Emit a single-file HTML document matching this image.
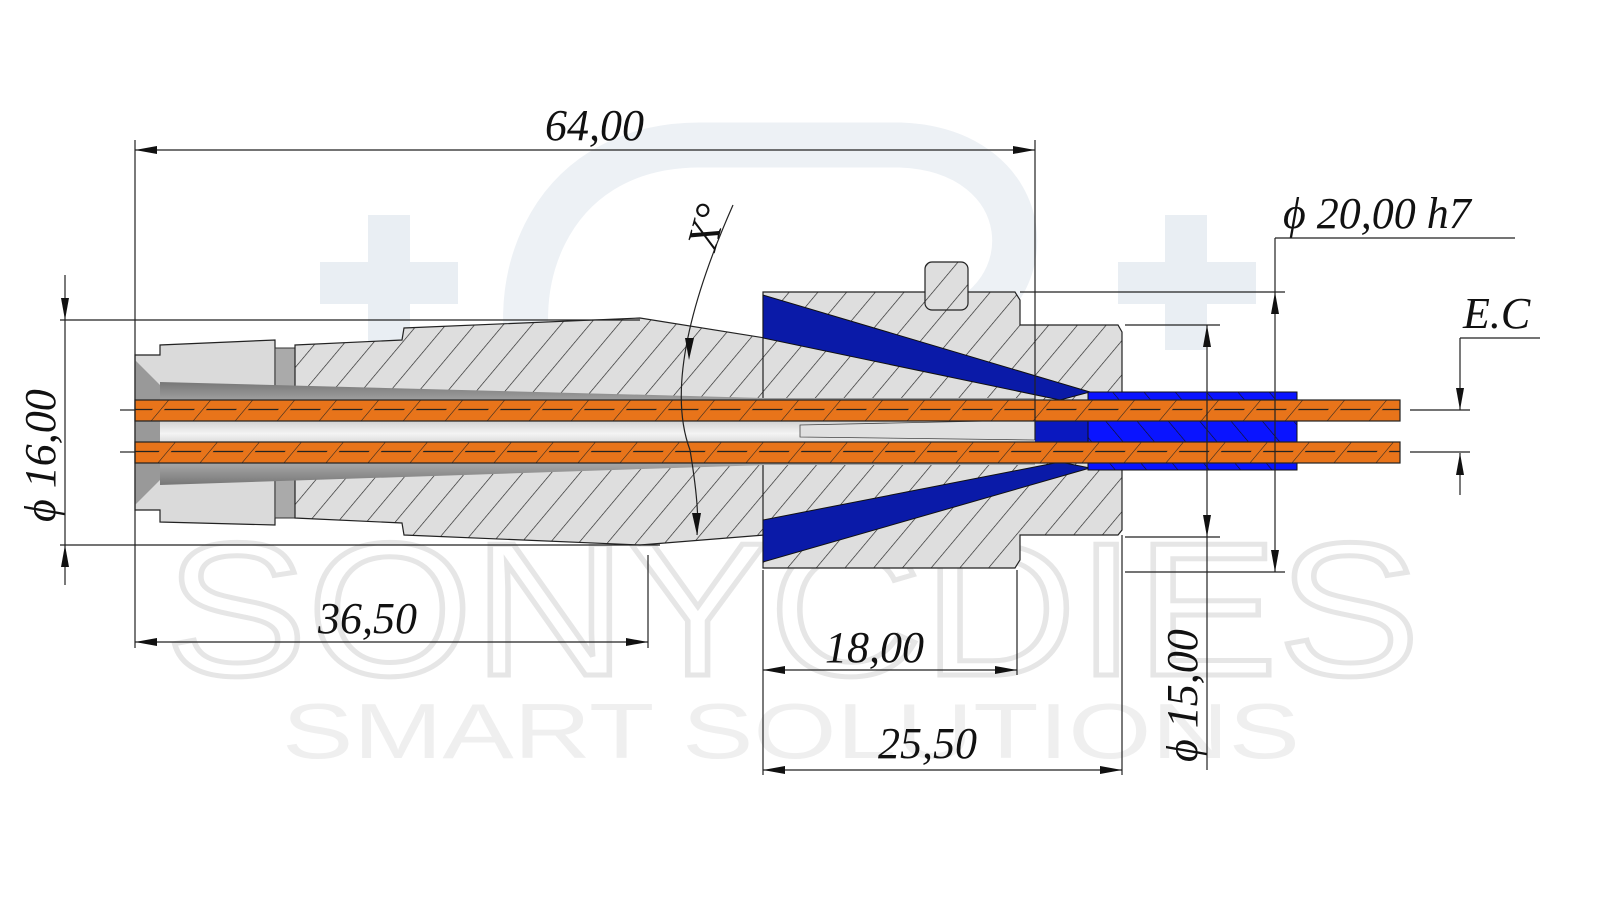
<!DOCTYPE html>
<html><head><meta charset="utf-8"><style>
html,body{margin:0;padding:0;background:#fff;width:1600px;height:900px;overflow:hidden}
svg text{font-family:"Liberation Serif",serif;font-style:italic}
</style></head><body>
<svg width="1600" height="900" viewBox="0 0 1600 900" xmlns="http://www.w3.org/2000/svg">
<defs>
<pattern id="hatch" patternUnits="userSpaceOnUse" width="22" height="22" patternTransform="rotate(40)">
<rect width="22" height="22" fill="#dedede"/><line x1="0" y1="0" x2="0" y2="22" stroke="#222" stroke-width="1.3"/>
</pattern>
<pattern id="bhatch" patternUnits="userSpaceOnUse" width="24" height="24" patternTransform="rotate(-40)">
<rect width="24" height="24" fill="#0a14ff"/><line x1="0" y1="0" x2="0" y2="24" stroke="#111" stroke-width="1.2"/>
</pattern>
<pattern id="wire" patternUnits="userSpaceOnUse" width="42" height="21" patternTransform="skewX(-40)">
<rect width="42" height="21" fill="#e8741a"/><line x1="0" y1="0" x2="0" y2="21" stroke="#222" stroke-width="1.4"/>
<line x1="4" y1="10.5" x2="34" y2="10.5" stroke="#222" stroke-width="1.3"/>
</pattern>
<linearGradient id="bore" x1="0" y1="0" x2="0" y2="1">
<stop offset="0" stop-color="#777"/><stop offset="0.3" stop-color="#bbb"/><stop offset="0.5" stop-color="#f4f4f4"/><stop offset="0.7" stop-color="#bbb"/><stop offset="1" stop-color="#777"/>
</linearGradient>
</defs>

<!-- watermark -->
<g fill="#e9eef3">
<rect x="320" y="262" width="138" height="42"/><rect x="368" y="215" width="42" height="135"/>
<rect x="1118" y="262" width="138" height="42"/><rect x="1165" y="215" width="42" height="135"/>
</g>
<path d="M540,390 C500,300 540,145 700,145 L900,145 C1040,150 1050,300 940,330" fill="none" stroke="#edf1f5" stroke-width="45"/>
<text x="165" y="675" textLength="1255" lengthAdjust="spacingAndGlyphs" font-size="190" fill="none" stroke="#e6e6e6" stroke-width="5" style="font-family:'Liberation Sans',sans-serif;font-style:normal">SONYCDIES</text>
<text x="282" y="758" textLength="1018" lengthAdjust="spacingAndGlyphs" font-size="78" fill="#efefef" style="font-family:'Liberation Sans',sans-serif;font-style:normal">SMART SOLUTIONS</text>

<!-- left die tip collar -->
<path d="M135,355 L160,355 L160,345 L275,340 L275,525 L160,522 L160,510 L135,510 Z" fill="#dadada" stroke="#222" stroke-width="1.2"/>
<path d="M135,360 L160,385 L160,480 L135,505 Z" fill="#999"/>
<rect x="275" y="348" width="20" height="170" fill="#aaa" stroke="#333"/>
<!-- hatched die body -->
<path d="M295,345 L402,340 L404,328 L640,318 L765,338 L765,535 L640,545 L404,535 L402,523 L295,518 Z" fill="url(#hatch)" stroke="#222" stroke-width="1.2"/>
<!-- main body -->
<path d="M763,292 L1015,292 L1020,300 L1020,325 L1118,325 L1122,332 L1122,530 L1118,535 L1020,535 L1020,560 L1015,568 L763,568 Z" fill="url(#hatch)" stroke="#222" stroke-width="1.2"/>
<!-- key -->
<rect x="925" y="262" width="43" height="48" rx="7" fill="url(#hatch)" stroke="#222" stroke-width="1.2"/>
<!-- blue cones -->
<path d="M763,295 L763,338 L1060,400 L1090,392 Z" fill="#0a1aa8" stroke="#111"/>
<path d="M763,562 L763,520 L1060,462 L1090,468 Z" fill="#0a1aa8" stroke="#111"/>
<!-- bore -->
<path d="M160,382 L765,398 L1035,398 L1035,465 L765,465 L160,485 Z" fill="url(#bore)"/>
<path d="M800,425 L1035,420 L1035,440 L800,437 Z" fill="#e0e0e0" stroke="#444" stroke-width="0.8"/>
<!-- blue sleeve -->
<rect x="1035" y="420" width="55" height="22" fill="#0a18c0"/>
<rect x="1088" y="392" width="209" height="78" fill="url(#bhatch)" stroke="#111"/>
<!-- wires -->
<rect x="135" y="400" width="1265" height="21" fill="url(#wire)" stroke="#222" stroke-width="1.2"/>
<rect x="135" y="442" width="1265" height="21" fill="url(#wire)" stroke="#222" stroke-width="1.2"/>
<g stroke="#222" stroke-width="1.2">
<line x1="1410" y1="410" x2="1470" y2="410"/>
<line x1="1410" y1="452" x2="1470" y2="452"/>
<line x1="120" y1="410" x2="135" y2="410"/><line x1="120" y1="452" x2="135" y2="452"/>
</g>

<!-- dimension lines -->
<g stroke="#222" stroke-width="1.2" fill="none">
<line x1="135" y1="140" x2="135" y2="648"/>
<line x1="1035" y1="140" x2="1035" y2="440"/>
<line x1="135" y1="150" x2="1035" y2="150"/>
<line x1="135" y1="642" x2="648" y2="642"/>
<line x1="648" y1="555" x2="648" y2="648"/>
<line x1="763" y1="570" x2="763" y2="775"/>
<line x1="1017" y1="570" x2="1017" y2="675"/>
<line x1="763" y1="670" x2="1017" y2="670"/>
<line x1="1122" y1="535" x2="1122" y2="775"/>
<line x1="763" y1="770" x2="1122" y2="770"/>
<line x1="60" y1="320" x2="640" y2="320"/>
<line x1="60" y1="545" x2="660" y2="545"/>
<line x1="65" y1="275" x2="65" y2="585"/>
<line x1="1020" y1="292" x2="1285" y2="292"/>
<line x1="1125" y1="572" x2="1285" y2="572"/>
<line x1="1275" y1="238" x2="1275" y2="572"/>
<line x1="1275" y1="238" x2="1515" y2="238"/>
<line x1="1125" y1="325" x2="1220" y2="325"/>
<line x1="1125" y1="537" x2="1220" y2="537"/>
<line x1="1207" y1="325" x2="1207" y2="770"/>
<line x1="1460" y1="338" x2="1540" y2="338"/>
<line x1="1460" y1="338" x2="1460" y2="410"/>
<line x1="1460" y1="453" x2="1460" y2="495"/>
<path d="M733,205 Q660,370 690,450 Q700,510 697,535"/>
</g>
<g fill="#111">
<path d="M135,150 l22,-4 v8z"/><path d="M1035,150 l-22,-4 v8z"/>
<path d="M135,642 l22,-4 v8z"/><path d="M648,642 l-22,-4 v8z"/>
<path d="M763,670 l22,-4 v8z"/><path d="M1017,670 l-22,-4 v8z"/>
<path d="M763,770 l22,-4 v8z"/><path d="M1122,770 l-22,-4 v8z"/>
<path d="M65,320 l-4,-22 h8z"/><path d="M65,545 l-4,22 h8z"/>
<path d="M1275,292 l-4,22 h8z"/><path d="M1275,572 l-4,-22 h8z"/>
<path d="M1207,325 l-4,22 h8z"/><path d="M1207,537 l-4,-22 h8z"/>
<path d="M1460,410 l-4,-22 h8z"/><path d="M1460,453 l-4,22 h8z"/>
<path d="M689,338 l-5,22 h9z" transform="rotate(180 689 349)"/><path d="M697,535 l-5,-22 h9z"/>
</g>

<!-- labels -->
<g fill="#111" font-size="44">
<text x="545" y="140">64,00</text>
<text x="318" y="633">36,50</text>
<text x="825" y="662">18,00</text>
<text x="878" y="758">25,50</text>
<text x="1283" y="228">ϕ 20,00 h7</text>
<text x="1463" y="328">E.C</text>
<text transform="translate(55,522) rotate(-90)">ϕ 16,00</text>
<text transform="translate(1197,762) rotate(-90)">ϕ 15,00</text>
<text transform="translate(715,252) rotate(-75)">X°</text>
</g>
</svg>
</body></html>
